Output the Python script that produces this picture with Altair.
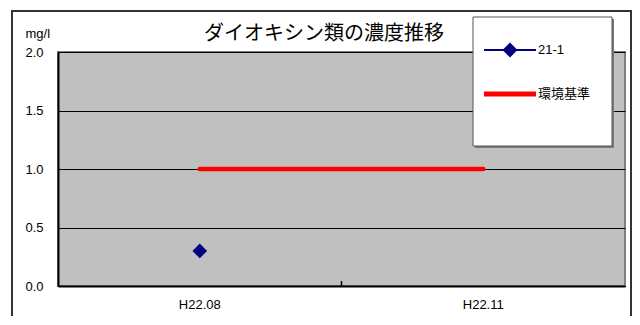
import altair as alt
import pandas as pd

# ---- data ----
dates = ["H22.08", "H22.11"]
series_21_1 = [0.3, None]
standard = [1.0, 1.0]
series_names = ["21-1", "環境基準"]
series_colors = ["#000080", "#FF0000"]
y_ticks = [0.0, 0.5, 1.0, 1.5, 2.0]
title_text = "ダイオキシン類の濃度推移"
y_unit = "mg/l"

FONT = "Liberation Sans, Arial, Noto Sans CJK JP"
CJK = "Noto Sans CJK JP"
W, H = 567, 234

df_pt = pd.DataFrame({"date": dates, "value": series_21_1})
df_std = pd.DataFrame({"date": dates, "value": standard})
df_leg = pd.DataFrame({"date": [dates[0], dates[0]],
                       "value": [series_21_1[0], standard[0]],
                       "series": series_names})
df_one = pd.DataFrame({"date": [dates[1]]})
df_title = pd.DataFrame({"t": [title_text]})

x_scale = alt.Scale(domain=dates, paddingInner=0, paddingOuter=0)
y_scale = alt.Scale(domain=[0, 2], nice=False, zero=True)

x_axis = alt.Axis(title=None, labelAngle=0, ticks=False, grid=False,
                  domainColor="black", domainWidth=2, labelPadding=12,
                  labelFontSize=13, labelFont=FONT, labelColor="black")
y_axis = alt.Axis(title=y_unit, values=y_ticks, format=".1f", ticks=False,
                  grid=True, gridColor="black", gridWidth=1,
                  domainColor="black", domainWidth=2, labelPadding=15,
                  labelFontSize=13, labelFont=FONT, labelColor="black",
                  titleAngle=0, titleX=-33, titleY=-19, titleAlign="left",
                  titleBaseline="middle", titleFontWeight="normal",
                  titleFontSize=13, titleFont=FONT, titleColor="black")

x_enc = alt.X("date:N", scale=x_scale, axis=x_axis)
y_enc = alt.Y("value:Q", scale=y_scale, axis=y_axis)

std_line = alt.Chart(df_std).mark_line(
    color="#FF0000", strokeWidth=4.5, strokeCap="round"
).encode(x=x_enc, y=y_enc)

pts = alt.Chart(df_pt).mark_point(
    shape="diamond", filled=True, color="#000080", size=215, opacity=1
).encode(x=alt.X("date:N"), y=alt.Y("value:Q"))

mid_tick = alt.Chart(df_one).mark_rule(color="black", strokeWidth=1.5).encode(
    x=alt.X("date:N", bandPosition=0),
    y=alt.value(H - 5), y2=alt.value(H),
)

path_pt = "M-1,-0.04H1V0.04H-1Z M-0.29,0L0,-0.29L0.29,0L0,0.29Z"
path_line = "M-1,-0.1H1V0.1H-1Z"

leg = alt.Legend(title=None, orient="none", legendX=426, legendY=-28,
                 symbolSize=2704, symbolStrokeWidth=0, symbolOpacity=1,
                 labelFontSize=13, labelFont=FONT, labelOffset=2,
                 labelColor="black", rowPadding=10, padding=0)

legend_layer = alt.Chart(df_leg).mark_point(filled=True, opacity=0).encode(
    x=alt.X("date:N"), y=alt.Y("value:Q"),
    color=alt.Color("series:N", scale=alt.Scale(domain=series_names, range=series_colors), legend=leg),
    shape=alt.Shape("series:N", scale=alt.Scale(domain=series_names, range=[path_pt, path_line]), legend=leg),
)

legend_shadow = alt.Chart(df_one).mark_rect(fill="#7a7a7a").encode(
    x=alt.value(417), x2=alt.value(556), y=alt.value(-33), y2=alt.value(96))
legend_box = alt.Chart(df_one).mark_rect(
    fill="white", stroke="#555555", strokeWidth=1
).encode(x=alt.value(415), x2=alt.value(554), y=alt.value(-35), y2=alt.value(94))

# outer frame drawn as thin filled bands
BT = -42
border_top = alt.Chart(df_one).mark_rect(fill="#333333").encode(
    x=alt.value(-47), x2=alt.value(574), y=alt.value(BT), y2=alt.value(BT + 2))
border_left = alt.Chart(df_one).mark_rect(fill="#333333").encode(
    x=alt.value(-47), x2=alt.value(-45), y=alt.value(BT), y2=alt.value(300))
border_right = alt.Chart(df_one).mark_rect(fill="#333333").encode(
    x=alt.value(572), x2=alt.value(574), y=alt.value(BT), y2=alt.value(300))

title_mark = alt.Chart(df_title).mark_text(
    font=CJK, fontSize=20, fontWeight="normal", color="black",
    align="center", baseline="middle"
).encode(text="t:N", x=alt.value(266), y=alt.value(-18))

chart = alt.layer(
    std_line, pts, mid_tick, legend_layer, legend_shadow, legend_box,
    border_top, border_left, border_right, title_mark
).properties(
    width=W, height=H,
    autosize=alt.AutoSizeParams(type="none"),
    padding={"left": 50, "top": 44, "right": 7, "bottom": 30},
    background="white",
).configure_view(
    fill="#C0C0C0", stroke="#808080", strokeWidth=2
)

chart.save("out.html", embed_options={"renderer": "svg", "actions": False})
